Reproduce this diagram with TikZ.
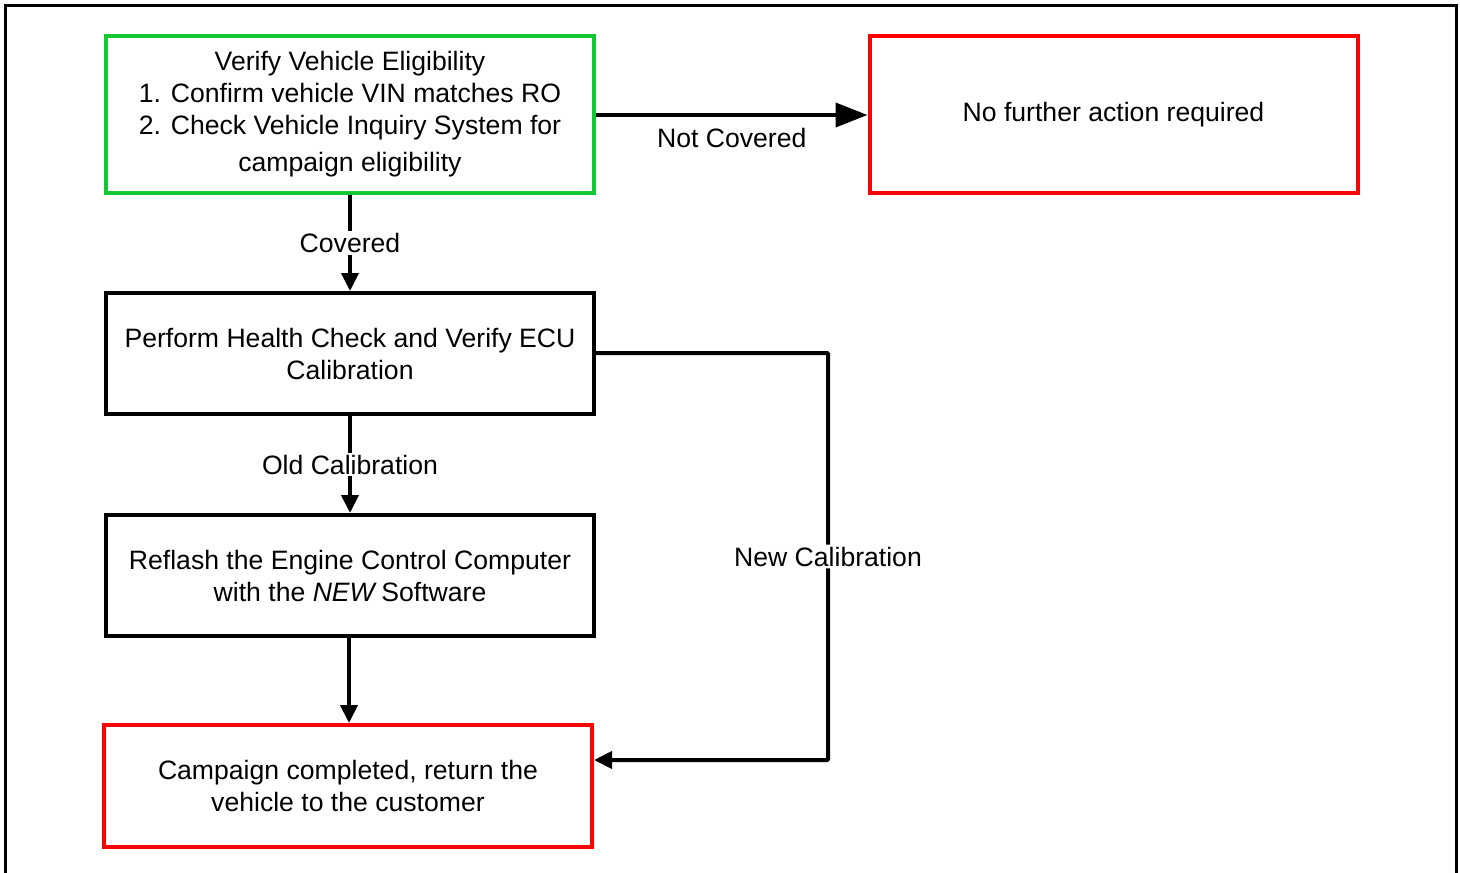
\documentclass[tikz,border=0pt]{standalone}
\usepackage{fontspec}
\setmainfont{Liberation Sans}
\usetikzlibrary{arrows.meta}
\definecolor{boxgreen}{RGB}{20,200,50}
\definecolor{boxred}{RGB}{255,0,0}
\begin{document}
\begin{tikzpicture}[x=1pt,y=-1pt,
  stepbox/.style={draw, line width=4pt, minimum width=488pt, align=center,
    font=\fontsize{26.6}{32}\selectfont, inner sep=0pt},
  conn/.style={line width=4pt},
  lbl/.style={font=\fontsize{26.6}{32}\selectfont, fill=white, inner sep=2pt},
  bigtip/.style={-{Triangle[length=32pt,width=24pt]}},
  smalltip/.style={-{Triangle[length=18pt,width=17pt]}}]
\useasboundingbox (0,0) rectangle (1460,873);
\draw[line width=3pt] (5,874) -- (5,5) -- (1456,5) -- (1456,874);

\node[stepbox, draw=boxgreen, minimum height=157pt] (a) at (350,114.5)
  {Verify Vehicle Eligibility\\1. Confirm vehicle VIN matches RO\\2. Check Vehicle Inquiry System for\\[5pt]campaign eligibility};
\node[stepbox, draw=boxred, minimum height=157pt] (b) at (1113.5,114.5)
  {No further action required};
\node[stepbox, minimum height=121pt] (c) at (350,353.5)
  {Perform Health Check and Verify ECU\\Calibration};
\node[stepbox, minimum height=121pt] (d) at (350,575.5)
  {Reflash the Engine Control Computer\\with the \textit{NEW}\,Software};
\node[stepbox, draw=boxred, minimum height=122pt] (e) at (348,786)
  {Campaign completed, return the\\vehicle to the customer};

\draw[conn, bigtip] (a.east |- 0,115) -- (b.west |- 0,115)
  node[midway, below=9pt, lbl, fill=none] {Not Covered};
\draw[conn, smalltip] (a.south) -- node[lbl] {Covered} (c.north);
\draw[conn, smalltip] (c.south) -- node[lbl] {Old Calibration} (d.north);
\draw[conn, smalltip] (349,637) coordinate (d1) (d.south -| d1) -- (e.north -| d1);
\coordinate (r1) at (828,353);
\coordinate (r2) at (828,760);
\draw[conn, smalltip, rounded corners=1pt] (c.east |- r1) -- (r1) -- node[lbl] {New Calibration} (r2) -- (e.east |- r2);
\end{tikzpicture}
\end{document}
